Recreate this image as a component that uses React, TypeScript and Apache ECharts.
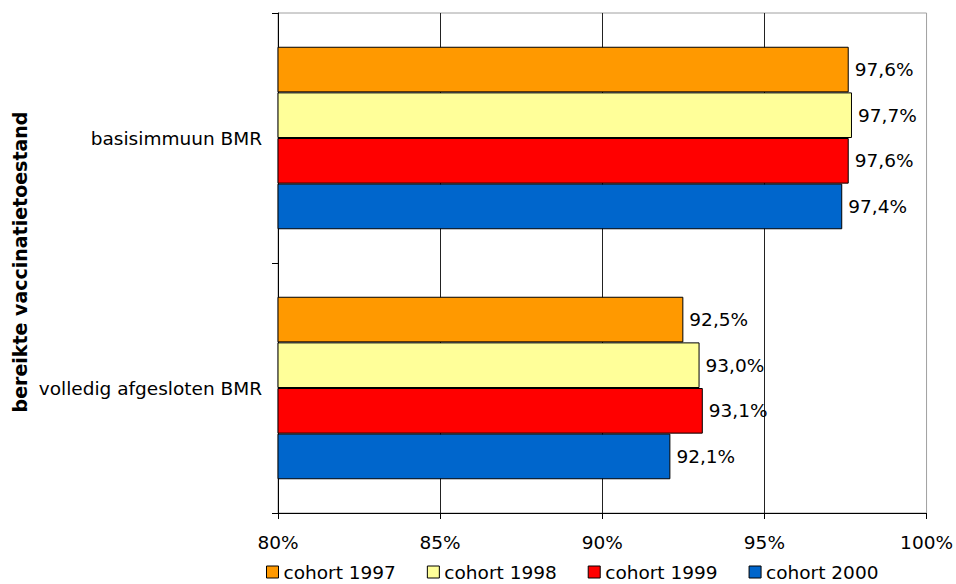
import React, { useEffect, useRef } from "react";
import * as echarts from "echarts";

const categories = ["basisimmuun BMR", "volledig afgesloten BMR"];
const seriesNames = ["cohort 1997", "cohort 1998", "cohort 1999", "cohort 2000"];
const cohort1997 = [97.6, 92.5];
const cohort1998 = [97.7, 93.0];
const cohort1999 = [97.6, 93.1];
const cohort2000 = [97.4, 92.1];
const seriesColors = ["#FF9900", "#FFFF99", "#FF0000", "#0066CC"];
const axisTitle = "bereikte vaccinatietoestand";

const FONT = "'DejaVu Sans', Verdana, sans-serif";
const FS = 18.5;

export default function App() {
  const ref = useRef<HTMLDivElement>(null);
  useEffect(() => {
    document.body.style.margin = "0";
    if (!ref.current) return;
    const chart = echarts.init(ref.current, undefined, { renderer: "svg" });
    const values = [cohort1997, cohort1998, cohort1999, cohort2000];
    chart.setOption({
      animation: false,
      textStyle: { fontFamily: FONT },
      grid: {
        left: 278,
        right: 29,
        top: 13,
        bottom: 71,
        show: true,
        borderColor: "#a0a0a0",
        borderWidth: 1,
        backgroundColor: "transparent",
      },
      legend: {
        left: 266,
        top: 562,
        padding: 0,
        itemWidth: 12,
        itemHeight: 12,
        itemGap: 31,
        icon: "rect",
        textStyle: { fontFamily: FONT, fontSize: FS, color: "#000", lineHeight: 20 },
        data: seriesNames.map((n) => ({
          name: n,
          itemStyle: { borderColor: "#000", borderWidth: 1 },
        })),
      },
      xAxis: {
        type: "value",
        min: 80,
        max: 100,
        interval: 5,
        axisLine: { show: true, lineStyle: { color: "#000", width: 1 } },
        axisTick: { show: true, length: 6, lineStyle: { color: "#000" } },
        axisLabel: {
          formatter: (v: number) => v + "%",
          fontFamily: FONT,
          fontSize: FS,
          color: "#000",
          margin: 20,
        },
        splitLine: { show: true, showMaxLine: false, lineStyle: { color: "#222", width: 1 } },
      },
      yAxis: {
        type: "category",
        data: categories,
        inverse: true,
        axisLine: { show: true, lineStyle: { color: "#000", width: 1 } },
        axisTick: { show: true, length: 6, lineStyle: { color: "#000" } },
        axisLabel: { fontFamily: FONT, fontSize: FS, color: "#000", margin: 16 },
      },
      graphic: [
        {
          type: "text",
          x: 20,
          y: 262,
          rotation: Math.PI / 2,
          style: {
            text: axisTitle,
            font: `bold 19px ${FONT}`,
            fill: "#000",
            textAlign: "center",
            textVerticalAlign: "middle",
          },
        },
      ],
      series: seriesNames.map((name, i) => ({
        name,
        type: "bar",
        data: values[i],
        barGap: "0%",
        barCategoryGap: "27%",
        itemStyle: { color: seriesColors[i], borderColor: "#000", borderWidth: 1 },
        label: {
          show: true,
          position: "right",
          distance: 6,
          fontFamily: FONT,
          fontSize: FS,
          color: "#000",
          formatter: (p: any) => p.value.toFixed(1).replace(".", ",") + "%",
        },
      })),
    });
    return () => chart.dispose();
  }, []);
  return (
    <div
      ref={ref}
      style={{ width: 956, height: 584, position: "absolute", left: 0, top: 0 }}
    />
  );
}
